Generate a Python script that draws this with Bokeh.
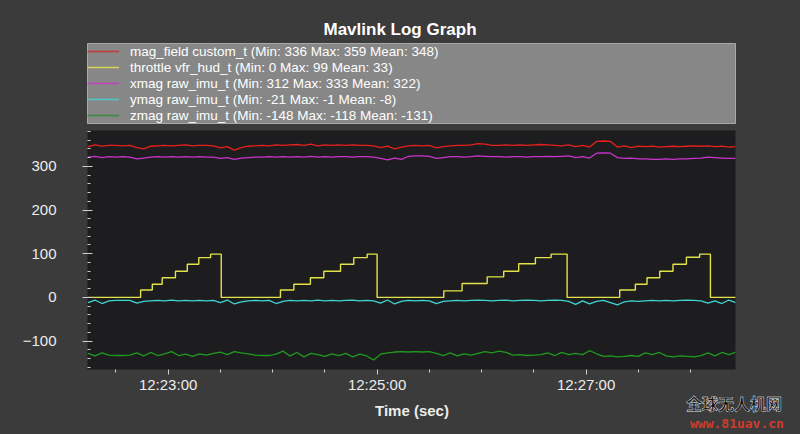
from bokeh.plotting import figure
from bokeh.layouts import column
from bokeh.models import (Legend, LegendItem, FixedTicker, Range1d, Div)
from bokeh.embed import file_html
from bokeh.resources import INLINE

# ---- data (seconds after 12:22:00) ----
sample_sec = list(range(134, 507, 4))

mag_field = [345, 349, 346, 348, 348, 347, 348, 343, 340, 346, 347, 348, 347, 348, 349, 347, 348, 348, 347,
             342, 345, 337, 343, 346, 347, 348, 347, 349, 348, 349, 350,
             348, 351, 347, 349, 348, 349, 348, 349, 348, 348, 347,
             343, 346, 340, 344, 347, 348, 347, 348, 342, 345, 347, 348, 348, 349, 352, 351, 348, 348, 349,
             348, 349, 348, 349, 350, 349, 348, 347,
             349, 345, 348, 344, 357, 358, 357, 344, 347, 343, 346, 345, 346, 344, 345, 346, 345, 346, 347,
             346, 347, 345, 346, 344, 345]
xmag = [321, 323, 320, 322, 321, 322, 321, 317, 319, 321, 322, 321, 322, 321, 322, 321, 322, 321, 321,
        318, 320, 316, 319, 320, 321, 321, 322, 321, 322, 321, 322,
        321, 323, 321, 322, 321, 322, 322, 321, 322, 322, 321,
        318, 315, 319, 316, 323, 324, 324, 323, 318, 320, 322, 322, 321, 322, 324, 323, 322, 322, 321,
        322, 322, 321, 322, 322, 323, 322, 323,
        324, 320, 322, 319, 330, 331, 330, 320, 318, 319, 317, 317, 316, 316, 317, 316, 317, 317, 318,
        319, 321, 320, 319, 318, 318]
ymag = [-12, -6, -14, -8, -7, -7, -7, -13, -9, -8, -7, -8, -6, -8, -7, -8, -7, -8, -7,
        -12, -6, -15, -10, -8, -7, -8, -7, -14, -9, -7, -8,
        -7, -8, -6, -8, -7, -8, -7, -6, -8, -7, -8,
        -13, -6, -15, -9, -7, -8, -7, -8, -14, -9, -8, -7, -8, -7, -6, -7, -8, -7, -6,
        -8, -7, -6, -7, -8, -7, -6, -7,
        -9, -16, -8, -15, -9, -7, -12, -17, -10, -8, -9, -8, -7, -8, -7, -8, -7, -6, -7,
        -8, -13, -8, -14, -6, -12]
zmag = [-128, -134, -127, -132, -133, -133, -132, -127, -134, -126, -133, -129, -124, -133, -130, -135,
        -129, -132, -128, -125, -131, -124, -127, -129, -132, -133, -133, -130, -123, -134, -126,
        -136, -128, -131, -135, -129, -133, -128, -136, -130, -134, -143, -130, -127, -125, -124,
        -125, -124, -125, -124, -128, -133, -127, -134, -129, -132, -128, -124, -127, -123, -126,
        -132, -131, -133, -132, -131, -127, -133, -126, -131, -128, -131, -122, -129, -135, -134,
        -136, -135, -133, -135, -127, -131, -126, -134, -136, -134, -135, -136, -133, -127, -134,
        -126, -131, -125]

throttle_sec = [133.7, 164.2, 170.9, 176.6, 184.2, 191.0, 197.6, 204.4, 210.5,
                244.5, 252.2, 261.7, 269.4, 279.0, 286.6, 294.3, 300.0,
                338.3, 348.8, 363.2, 372.7, 381.3, 390.9, 399.9, 409.1,
                439.3, 448.3, 455.0, 462.3, 469.9, 477.6, 485.2, 491.4, 506.0]
throttle = [0, 17, 30, 45, 60, 76, 91, 99, 0,
            17, 30, 45, 60, 76, 91, 99, 0,
            15, 32, 47, 60, 77, 91, 99, 0,
            17, 30, 45, 60, 76, 92, 99, 0, 0]

legend_labels = [
    "mag_field custom_t (Min: 336 Max: 359 Mean: 348)",
    "throttle vfr_hud_t (Min: 0 Max: 99 Mean: 33)",
    "xmag raw_imu_t (Min: 312 Max: 333 Mean: 322)",
    "ymag raw_imu_t (Min: -21 Max: -1 Mean: -8)",
    "zmag raw_imu_t (Min: -148 Max: -118 Mean: -131)",
]
x_major = [180, 300, 420]
x_labels = ["12:23:00", "12:25:00", "12:27:00"]
x_minor = [150, 210, 240, 270, 330, 360, 390, 450, 480]
y_major = [-100, 0, 100, 200, 300]
y_minor = [-160, -140, -120, -80, -60, -40, -20, 20, 40, 60, 80, 120, 140, 160, 180,
           220, 240, 260, 280, 320, 340, 360, 380]
x_axis_title = "Time (sec)"
watermark = ["全球无人机网", "www.81uav.cn"]

colors = ["#e8201c", "#e2e24a", "#cc33cc", "#3fd3d3", "#1f9a1f"]
legend_colors = ["#c43a36", "#d6d65a", "#c040c0", "#50c8c8", "#3a8a3a"]
FONT = "Liberation Sans"
BG = "#3b3b3b"

# ---------- header figure: title + legend box ----------
top = figure(width=800, height=130, output_backend="svg", toolbar_location=None,
             x_range=Range1d(0, 1), y_range=Range1d(0, 1),
             x_axis_type=None, y_axis_type=None,
             min_border_left=87, min_border_right=62, min_border_top=43, min_border_bottom=7,
             background_fill_color="#878787", border_fill_color=BG,
             outline_line_color="#a9a9a9")
top.grid.visible = False
top.title.text = "Mavlink Log Graph"
top.title.align = "left"
top.title.offset = 236
top.title.text_color = "white"
top.title.text_font = FONT
top.title.text_font_size = "17px"
top.title.text_font_style = "bold"
top.title.standoff = 10

# legend swatches (kept outside the visible range of the header frame)
dummies = [top.line([-3, -2], [-3, -3], line_color=c, line_width=1.4) for c in legend_colors]
legend = Legend(items=[LegendItem(label=l, renderers=[r]) for l, r in zip(legend_labels, dummies)],
                location="top_left", orientation="vertical",
                label_height=16, glyph_width=32, glyph_height=16,
                spacing=0, padding=0, margin=0, label_standoff=11,
                background_fill_alpha=0.0, border_line_color=None,
                label_text_color="white", label_text_font=FONT, label_text_font_size="13.5px")
top.add_layout(legend)

# ---------- main plot ----------
p = figure(width=800, height=265, output_backend="svg", toolbar_location=None,
           x_range=Range1d(133.7, 505.8), y_range=Range1d(-165, 382),
           min_border_left=87, min_border_right=65, min_border_bottom=24, min_border_top=0,
           background_fill_color="#1d1d1f", border_fill_color=BG,
           outline_line_color=None)
p.grid.visible = False

p.line(sample_sec, mag_field, line_color=colors[0], line_width=1.3)
p.step(throttle_sec, throttle, mode="after", line_color=colors[1], line_width=1.4)
p.line(sample_sec, xmag, line_color=colors[2], line_width=1.3)
p.line(sample_sec, ymag, line_color=colors[3], line_width=1.3)
p.line(sample_sec, zmag, line_color=colors[4], line_width=1.3)

xax = p.xaxis[0]
xax.ticker = FixedTicker(ticks=x_major, minor_ticks=x_minor)
xax.major_label_overrides = {t: l for t, l in zip(x_major, x_labels)}
yax = p.yaxis[0]
yax.ticker = FixedTicker(ticks=y_major, minor_ticks=y_minor)

for ax in (xax, yax):
    ax.axis_line_color = None
    ax.major_tick_line_color = "#cfcfcf"
    ax.minor_tick_line_color = "#cfcfcf"
    ax.major_label_text_color = "#ececec"
    ax.major_label_text_font = FONT
    ax.major_label_text_font_size = "15px"

xax.major_tick_in = 0
xax.major_tick_out = 5
xax.minor_tick_in = 0
xax.minor_tick_out = 3
xax.major_label_standoff = 1

yax.major_tick_in = 5
yax.major_tick_out = 5
yax.minor_tick_in = 3
yax.minor_tick_out = 0
yax.major_label_standoff = 26

# ---------- footer: axis title + watermark ----------
foot_html = (
    '<div style="position:relative;width:800px;height:39px;margin:0;padding:0;">'
    '<div style="position:absolute;left:0;top:7px;width:824px;text-align:center;'
    "font-family:'Liberation Sans';font-weight:bold;font-size:15px;line-height:18px;color:#ececec;\">"
    + x_axis_title + '</div>'
    '<div style="position:absolute;left:686px;top:0px;white-space:nowrap;'
    "font-family:'Noto Sans CJK SC';font-weight:bold;font-size:16px;line-height:17px;color:#0c0c0c;"
    '-webkit-text-stroke:0.4px #ffffff;">' + watermark[0] + '</div>'
    '<div style="position:absolute;left:690px;top:21px;white-space:nowrap;'
    "font-family:'DejaVu Sans Mono';font-weight:bold;font-size:13px;line-height:15px;color:#d23a2a;\">"
    + watermark[1] + '</div>'
    '</div>'
)
foot = Div(text=foot_html, width=800, height=39, margin=0,
           styles={"background-color": BG, "overflow": "visible"})

layout = column(top, p, foot, spacing=0, styles={"background-color": BG})
html = file_html(layout, INLINE)
html = html.replace("<body>", '<body style="margin:0;background-color:%s">' % BG, 1)
open("out.html", "w").write(html)
